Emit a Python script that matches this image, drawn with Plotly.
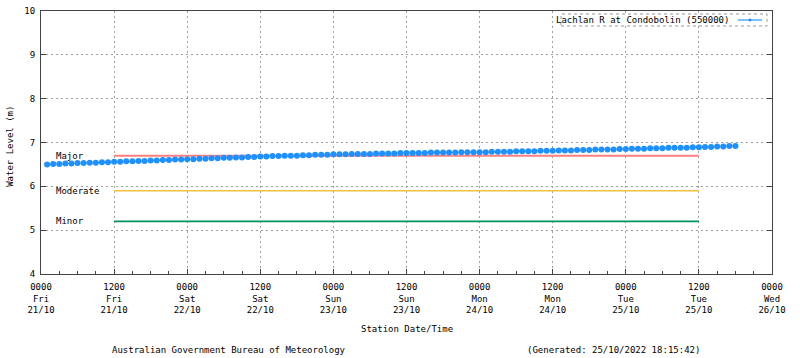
import pandas as pd
import plotly.graph_objects as go

# ---- data ----
start_time = "2022-10-21 01:00"
water_level = [
    6.50, 6.51, 6.51, 6.52, 6.52, 6.53, 6.53, 6.54, 6.54, 6.55, 6.55, 6.56,
    6.56, 6.57, 6.57, 6.58, 6.58, 6.59, 6.59, 6.60, 6.60, 6.61, 6.61, 6.62,
    6.62, 6.63, 6.63, 6.64, 6.64, 6.65, 6.65, 6.66, 6.66, 6.67, 6.67, 6.68,
    6.68, 6.69, 6.69, 6.70, 6.70, 6.70, 6.71, 6.71, 6.72, 6.72, 6.72, 6.73,
    6.73, 6.73, 6.74, 6.74, 6.74, 6.74, 6.75, 6.75, 6.75, 6.75, 6.76, 6.76,
    6.76, 6.76, 6.76, 6.77, 6.77, 6.77, 6.77, 6.77, 6.78, 6.78, 6.78, 6.78,
    6.78, 6.79, 6.79, 6.79, 6.79, 6.80, 6.80, 6.80, 6.80, 6.81, 6.81, 6.81,
    6.82, 6.82, 6.82, 6.83, 6.83, 6.83, 6.84, 6.84, 6.84, 6.84, 6.85, 6.85,
    6.86, 6.86, 6.86, 6.87, 6.87, 6.87, 6.88, 6.88, 6.88, 6.88, 6.89, 6.89,
    6.90, 6.90, 6.91, 6.91, 6.92, 6.92,
]
times = pd.date_range(start_time, periods=len(water_level), freq="h")

series_name = "Lachlan R at Condobolin (550000)"

threshold_names = ["Major", "Moderate", "Minor"]
threshold_levels = [6.7, 5.9, 5.2]
threshold_colors = ["#ff7f7f", "#f2c23c", "#00935a"]
threshold_start = "2022-10-21 12:00"
threshold_end = "2022-10-25 12:00"

tick_times = pd.date_range("2022-10-21 00:00", "2022-10-26 00:00", freq="12h")
tick_labels = [
    "0000<br>Fri<br>21/10", "1200<br>Fri<br>21/10",
    "0000<br>Sat<br>22/10", "1200<br>Sat<br>22/10",
    "0000<br>Sun<br>23/10", "1200<br>Sun<br>23/10",
    "0000<br>Mon<br>24/10", "1200<br>Mon<br>24/10",
    "0000<br>Tue<br>25/10", "1200<br>Tue<br>25/10",
    "0000<br>Wed<br>26/10",
]
y_ticks = [4, 5, 6, 7, 8, 9, 10]

FONT = "DejaVu Sans Mono"
AX = "#444444"
GRID = "#a0a0a0"
GRIDDASH = "2px,3px"

# plot area in page pixels: x 41..772, y 11..274.3
def px_x(x):
    return (x - 41) / 731.0

def px_y(y):
    return (274.3 - y) / 263.3

fig = go.Figure()

for name, lvl, col in zip(threshold_names, threshold_levels, threshold_colors):
    fig.add_trace(go.Scatter(
        x=[threshold_start, threshold_end], y=[lvl, lvl], mode="lines",
        line=dict(color=col, width=2 if name == "Major" else 1.6),
        showlegend=False, hoverinfo="skip"))
    fig.add_annotation(x=px_x(54), xref="paper", y=lvl, yref="y", text=name,
                       showarrow=False, xanchor="left", yanchor="middle",
                       font=dict(family=FONT, size=9, color="black"))

fig.add_trace(go.Scatter(
    x=times, y=water_level, mode="lines+markers", name=series_name,
    line=dict(color="#7cc0ff", width=1.5),
    marker=dict(color="#1e90ff", size=6, symbol="circle"),
    showlegend=False))

# custom legend (text on left, sample on right, dotted box)
fig.add_shape(type="rect", xref="paper", yref="paper",
              x0=px_x(561), x1=px_x(767), y0=px_y(26), y1=px_y(14),
              line=dict(color="#999999", width=1, dash="dot"),
              fillcolor="white", layer="above")
fig.add_annotation(x=px_x(731), xref="paper", y=px_y(20), yref="paper",
                   text=series_name, showarrow=False, xanchor="right",
                   yanchor="middle", font=dict(family=FONT, size=9, color="black"))
fig.add_shape(type="line", xref="paper", yref="paper",
              x0=px_x(738), x1=px_x(762), y0=px_y(20), y1=px_y(20),
              line=dict(color="#7cc0ff", width=2), layer="above")
fig.add_shape(type="circle", xref="paper", yref="paper",
              x0=px_x(748.5), x1=px_x(751.5), y0=px_y(21.5), y1=px_y(18.5),
              line=dict(color="#1e90ff", width=0), fillcolor="#1e90ff",
              layer="above")

fig.update_layout(
    width=800, height=358,
    margin=dict(l=41, r=28, t=11, b=84),
    plot_bgcolor="white", paper_bgcolor="white",
    font=dict(family=FONT, size=9, color="black"),
    xaxis=dict(
        range=["2022-10-21 00:00", "2022-10-26 00:00"],
        tickvals=tick_times, ticktext=tick_labels, tickangle=0,
        showgrid=True, gridcolor=GRID, griddash=GRIDDASH, gridwidth=1,
        showline=True, linecolor=AX, linewidth=1, mirror=True,
        ticks="inside", ticklen=5, tickcolor=AX, ticklabelstandoff=4,
        minor=dict(dtick=3 * 3600 * 1000, ticks="inside", ticklen=3,
                   tickcolor=AX, showgrid=False),
        zeroline=False, automargin=False,
    ),
    yaxis=dict(
        range=[4, 10], tickvals=y_ticks,
        showgrid=True, gridcolor=GRID, griddash=GRIDDASH, gridwidth=1,
        showline=True, linecolor=AX, linewidth=1, mirror="ticks",
        ticks="inside", ticklen=5, tickcolor=AX, ticklabelstandoff=3,
        zeroline=False, automargin=False,
    ),
)

# axis titles
fig.add_annotation(x=px_x(407), xref="paper", y=px_y(329), yref="paper",
                   text="Station Date/Time", showarrow=False,
                   xanchor="center", yanchor="middle",
                   font=dict(family=FONT, size=9, color="black"))
fig.add_annotation(x=px_x(10), xref="paper", y=px_y(147), yref="paper",
                   text="Water Level (m)", showarrow=False, textangle=-90,
                   xanchor="center", yanchor="middle",
                   font=dict(family=FONT, size=9, color="black"))

# footer
fig.add_annotation(x=px_x(110), xref="paper", y=px_y(350),
                   yref="paper", text="Australian Government Bureau of Meteorology",
                   showarrow=False, xanchor="left", yanchor="middle",
                   font=dict(family=FONT, size=9, color="black"))
fig.add_annotation(x=px_x(702), xref="paper", y=px_y(350),
                   yref="paper", text="(Generated: 25/10/2022 18:15:42)",
                   showarrow=False, xanchor="right", yanchor="middle",
                   font=dict(family=FONT, size=9, color="black"))

fig.write_html("out.html",
               config={"displayModeBar": False},
               post_script="document.body.style.margin='0';"
                           "document.body.style.overflow='hidden';")
